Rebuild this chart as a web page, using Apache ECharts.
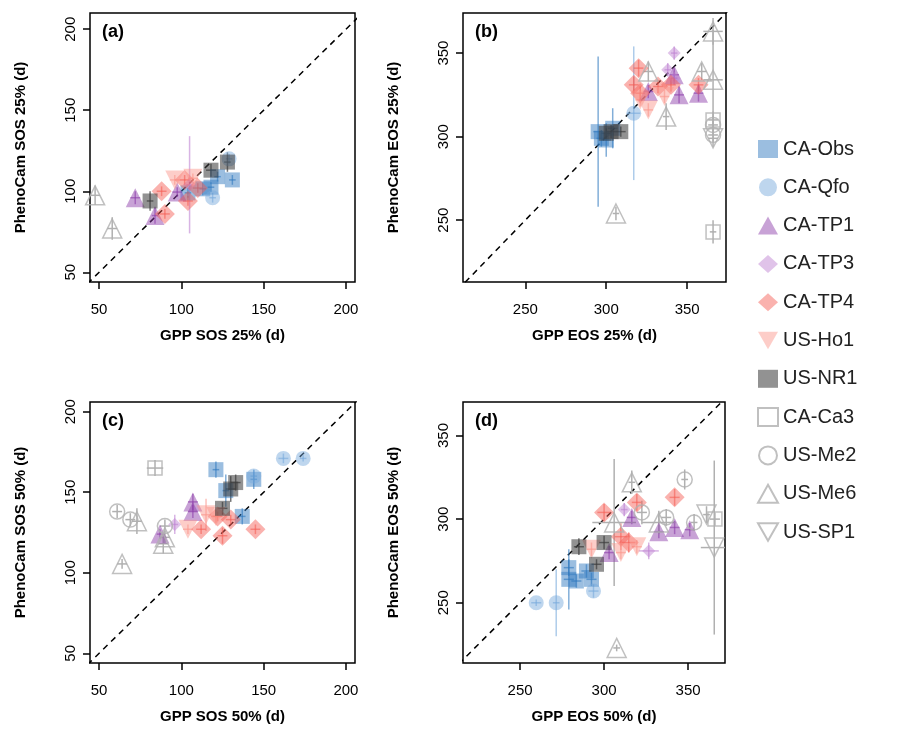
<!DOCTYPE html>
<html>
<head>
<meta charset="utf-8">
<script src="https://cdn.jsdelivr.net/npm/echarts@6/dist/echarts.min.js"></script>
<style>html,body{margin:0;padding:0;background:#fff}#c{width:909px;height:739px}</style>
</head>
<body>
<div id="c"></div>
<script>
var sites = ["CA-Obs", "CA-Qfo", "CA-TP1", "CA-TP3", "CA-TP4", "US-Ho1", "US-NR1", "CA-Ca3", "US-Me2", "US-Me6", "US-SP1"];
var ticks25 = [50, 100, 150, 200];
var ticksEos = [250, 300, 350];

// rows: site, x, y, x error, y error
var panelA = [
  ["US-Me6", 47.6, 97.5, 3, 6], ["US-Me6", 58, 77, 3, 7],
  ["CA-TP1", 72, 96, 3, 4], ["CA-TP1", 84, 85, 2, 5], ["CA-TP1", 97.5, 99.5, 3, 3],
  ["US-NR1", 81, 94, 2, 6], ["US-NR1", 118, 113, 3, 4], ["US-NR1", 128, 118, 2, 6],
  ["CA-TP4", 88, 100, 3, 3], ["CA-TP4", 90, 86, 3, 3], ["CA-TP4", 104, 94, 3, 3], ["CA-TP4", 110, 102, 3, 3], ["CA-TP4", 102, 107, 3, 3],
  ["US-Ho1", 96, 107, 3, 3], ["US-Ho1", 107, 108, 3, 3],
  ["CA-TP3", 105, 104, 2, 30],
  ["CA-Obs", 122, 109, 2, 3], ["CA-Obs", 131, 107, 2, 3], ["CA-Obs", 118, 102.5, 2, 3], ["CA-Obs", 113, 101.5, 2, 4], ["CA-Obs", 104, 99, 2, 3],
  ["CA-Qfo", 119, 96, 2, 3], ["CA-Qfo", 129, 120, 2, 3]
];
var panelB = [
  ["CA-Obs", 295, 303, 3, 45], ["CA-Obs", 300, 298, 3, 10], ["CA-Obs", 304, 305, 3, 12], ["CA-Obs", 297, 299, 3, 5],
  ["CA-Qfo", 317, 314, 4, 40],
  ["US-NR1", 303, 303, 3, 4], ["US-NR1", 309, 303, 3, 3], ["US-NR1", 300, 302, 3, 3],
  ["CA-TP4", 320, 341, 3, 5], ["CA-TP4", 317, 331, 3, 5], ["CA-TP4", 332, 330, 3, 4], ["CA-TP4", 340, 331, 3, 4], ["CA-TP4", 357, 331, 3, 4], ["CA-TP4", 321, 326, 3, 4],
  ["US-Ho1", 326, 316, 3, 4], ["US-Ho1", 336, 324, 3, 4], ["US-Ho1", 321, 322, 3, 4],
  ["CA-TP3", 342, 350, 2, 4], ["CA-TP3", 338, 340, 2, 4], ["CA-TP3", 342, 335, 2, 4],
  ["CA-TP1", 345, 325, 3, 5], ["CA-TP1", 357, 326, 3, 5], ["CA-TP1", 342, 337, 3, 4], ["CA-TP1", 326, 327, 3, 4],
  ["US-Me6", 326, 339, 3, 6], ["US-Me6", 359, 339, 3, 5], ["US-Me6", 366, 334, 6, 30], ["US-Me6", 366, 363, 6, 8], ["US-Me6", 337, 312, 2, 8], ["US-Me6", 306, 254, 2, 4],
  ["CA-Ca3", 366, 310, 3, 5], ["CA-Ca3", 366, 243, 2, 7],
  ["US-Me2", 366, 307, 3, 5], ["US-Me2", 366, 301, 3, 4],
  ["US-SP1", 366, 299, 3, 5]
];
var panelC = [
  ["CA-Ca3", 84, 165, 5, 5],
  ["US-Me2", 61, 138, 3, 4], ["US-Me2", 69, 133, 3, 4], ["US-Me2", 90, 129, 3, 4],
  ["US-Me6", 73, 132, 3, 8], ["US-Me6", 64, 105.5, 3, 3], ["US-Me6", 89, 118, 3, 6], ["US-Me6", 90, 122, 3, 4],
  ["CA-TP1", 107, 144, 3, 5], ["CA-TP1", 107, 138, 3, 4], ["CA-TP1", 87, 124, 2, 3],
  ["CA-TP3", 96, 130, 2, 6],
  ["US-Ho1", 104, 127, 3, 3], ["US-Ho1", 115, 136, 3, 10], ["US-Ho1", 121, 135, 3, 4],
  ["CA-TP4", 112, 127, 3, 3], ["CA-TP4", 125, 123, 3, 5], ["CA-TP4", 130, 133, 3, 3], ["CA-TP4", 145, 127, 3, 3], ["CA-TP4", 122, 135, 3, 3],
  ["US-NR1", 125, 140, 3, 4], ["US-NR1", 133, 156, 3, 5], ["US-NR1", 130, 152, 3, 8],
  ["CA-Obs", 121, 164, 2, 5], ["CA-Obs", 144, 158, 2, 6], ["CA-Obs", 127, 151, 2, 10], ["CA-Obs", 137, 135, 2, 5],
  ["CA-Qfo", 162, 171, 3, 3], ["CA-Qfo", 174, 171, 2, 2], ["CA-Qfo", 144, 160, 2, 4]
];
var panelD = [
  ["CA-Qfo", 259.6, 250, 3, 2], ["CA-Qfo", 271.5, 250, 2, 20], ["CA-Qfo", 293.7, 257, 3, 4],
  ["CA-Obs", 279, 271, 3, 5], ["CA-Obs", 279, 264, 3, 18], ["CA-Obs", 283.5, 263, 3, 4], ["CA-Obs", 289.5, 269, 3, 4], ["CA-Obs", 292.5, 264, 3, 4],
  ["US-NR1", 285, 283.5, 3, 5], ["US-NR1", 300, 286, 3, 4], ["US-NR1", 295.5, 273, 3, 3],
  ["CA-TP4", 300, 304, 4, 5], ["CA-TP4", 319.5, 310, 3, 5], ["CA-TP4", 342, 313, 3, 5], ["CA-TP4", 310, 289.5, 4, 8], ["CA-TP4", 314.7, 286, 4, 6],
  ["US-Ho1", 292.5, 282, 3, 4], ["US-Ho1", 310, 280, 3, 4], ["US-Ho1", 319.5, 283.5, 3, 4],
  ["CA-TP3", 312, 305.7, 2, 4], ["CA-TP3", 326.6, 281, 6, 5],
  ["CA-TP1", 303, 280, 3, 4], ["CA-TP1", 332.6, 292.5, 3, 4], ["CA-TP1", 342, 295, 3, 4], ["CA-TP1", 351, 293.7, 3, 4], ["CA-TP1", 316.5, 301, 3, 4],
  ["US-Me6", 316.5, 322, 2, 7], ["US-Me6", 306, 298, 13, 38], ["US-Me6", 332.6, 298, 10, 7], ["US-Me6", 307.5, 223, 2, 2],
  ["US-Me2", 348, 323.7, 2, 6], ["US-Me2", 322.5, 304, 3, 7], ["US-Me2", 337, 301, 3, 5], ["US-Me2", 353.6, 298, 2, 5],
  ["CA-Ca3", 366, 300, 3, 4],
  ["US-SP1", 361, 302.7, 2, 5], ["US-SP1", 365.6, 283, 8, 52]
];

var gray = "#b0b0b0";
var downTri = "path://M0,0L2,0L1,1.73Z";
var style = {
  "CA-Obs": { symbol: "rect", size: 15, color: "rgba(46,120,190,0.6)", fill: true },
  "CA-Qfo": { symbol: "circle", size: 15, color: "rgba(120,170,220,0.6)", fill: true },
  "CA-TP1": { symbol: "triangle", size: 19, color: "rgba(140,60,170,0.6)", fill: true },
  "CA-TP3": { symbol: "diamond", size: 13, color: "rgba(190,130,210,0.6)", fill: true },
  "CA-TP4": { symbol: "diamond", size: 20, color: "rgba(245,95,85,0.6)", fill: true },
  "US-Ho1": { symbol: downTri, size: 19, color: "rgba(250,150,140,0.6)", fill: true },
  "US-NR1": { symbol: "rect", size: 15, color: "rgba(60,60,60,0.7)", fill: true },
  "CA-Ca3": { symbol: "rect", size: 14, color: gray, fill: false },
  "US-Me2": { symbol: "circle", size: 15, color: gray, fill: false },
  "US-Me6": { symbol: "triangle", size: 19, color: gray, fill: false },
  "US-SP1": { symbol: downTri, size: 19, color: gray, fill: false }
};

var grids = [
  { left: 90, top: 13, width: 265, height: 269 },
  { left: 463, top: 13, width: 263, height: 269 },
  { left: 90, top: 402, width: 265, height: 261 },
  { left: 463, top: 402, width: 262, height: 261 }
];
var xr = [[44.5, 205.5], [211.5, 374], [44.5, 205.5], [216, 372]];
var yr = [[44, 210], [213, 374], [44, 206], [214, 370]];
var xNames = ["GPP SOS 25% (d)", "GPP EOS 25% (d)", "GPP SOS 50% (d)", "GPP EOS 50% (d)"];
var yNames = ["PhenoCam SOS 25% (d)", "PhenoCam EOS 25% (d)", "PhenoCam SOS 50% (d)", "PhenoCam EOS 50% (d)"];
var panels = [panelA, panelB, panelC, panelD];
var labels = ["(a)", "(b)", "(c)", "(d)"];

function axis(i, r, name, isY) {
  var tv = (i % 2 === 0) ? ticks25 : ticksEos;
  return {
    type: "value", gridIndex: i, min: r[0], max: r[1], name: name,
    nameLocation: "middle", nameGap: isY ? 62 : 46,
    nameTextStyle: { fontWeight: "bold", fontSize: 15, color: "#000", fontFamily: "Liberation Sans" },
    axisLine: { show: false },
    axisTick: { show: true, length: 7, customValues: tv, lineStyle: { color: "#000", width: 1.5 } },
    axisLabel: { customValues: tv, fontSize: 15, color: "#000", margin: isY ? 12 : 20, fontFamily: "Liberation Sans", rotate: isY ? 90 : 0 },
    splitLine: { show: false }
  };
}

var xAxis = [], yAxis = [], series = [], titles = [];
grids.forEach(function (g, i) {
  xAxis.push(axis(i, xr[i], xNames[i], false));
  yAxis.push(axis(i, yr[i], yNames[i], true));
  titles.push({ text: labels[i], left: g.left + 7, top: g.top + 5, textStyle: { fontSize: 18, fontWeight: "bold", color: "#000", fontFamily: "Liberation Sans" } });
  series.push({
    type: "line", xAxisIndex: i, yAxisIndex: i, data: [[0, 0], [400, 400]], symbol: "none", silent: true,
    clip: true, z: 1, lineStyle: { color: "#000", type: [6, 5], width: 1.5 }
  });
  sites.forEach(function (s) {
    var rows = panels[i].filter(function (r) { return r[0] === s; }).map(function (r) { return r.slice(1); });
    var st = style[s];
    var lineColor = st.fill ? st.color : gray;
    series.push({
      name: s + " err", type: "custom", xAxisIndex: i, yAxisIndex: i, data: rows, z: 2, silent: true,
      clip: true,
      renderItem: function (params, api) {
        var x = api.value(0), y = api.value(1), dx = api.value(2), dy = api.value(3);
        var a = api.coord([x - dx, y]), b = api.coord([x + dx, y]);
        var c = api.coord([x, y - dy]), d = api.coord([x, y + dy]);
        var ls = { stroke: lineColor, lineWidth: 1.5 };
        return { type: "group", children: [
          { type: "line", shape: { x1: a[0], y1: a[1], x2: b[0], y2: b[1] }, style: ls },
          { type: "line", shape: { x1: c[0], y1: c[1], x2: d[0], y2: d[1] }, style: ls }
        ] };
      }
    });
    series.push({
      name: s, type: "scatter", xAxisIndex: i, yAxisIndex: i, data: rows.map(function (r) { return [r[0], r[1]]; }),
      symbol: st.symbol, symbolSize: st.size, z: 3, clip: true,
      itemStyle: st.fill ? { color: st.color } : { color: "rgba(255,255,255,0)", borderColor: gray, borderWidth: 1.5 }
    });
  });
});

var chart = echarts.init(document.getElementById("c"));
chart.setOption({
  animation: false,
  backgroundColor: "#fff",
  title: titles,
  grid: grids.map(function (g) { return Object.assign({ show: true, borderColor: "#000", borderWidth: 1.5, backgroundColor: "transparent" }, g); }),
  xAxis: xAxis,
  yAxis: yAxis,
  legend: {
    data: sites, orient: "vertical", left: 752, top: 134, itemWidth: 20, itemHeight: 18, itemGap: 18.3,
    textStyle: { fontSize: 20, color: "#222", fontFamily: "Liberation Sans" }
  },
  series: series
});
</script>
</body>
</html>
